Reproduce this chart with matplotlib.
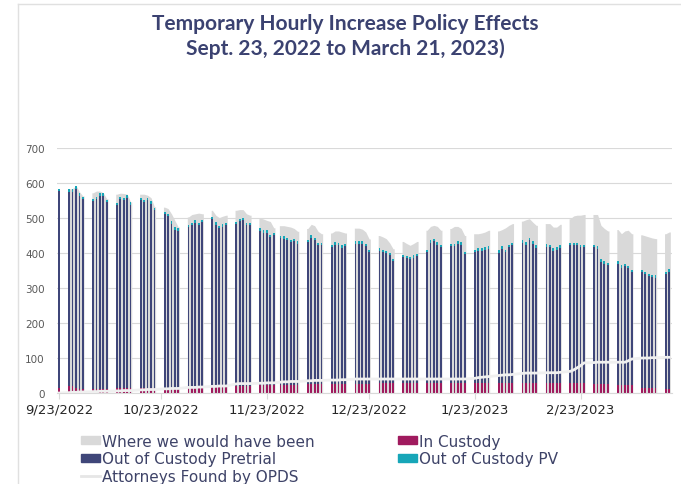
import numpy as np
import pandas as pd
import matplotlib
matplotlib.use("Agg")
import matplotlib.pyplot as plt
import matplotlib.dates as mdates
from matplotlib.patches import Patch
from matplotlib.lines import Line2D

# one bar per weekday 9/23/2022 .. 3/21/2023 (plus a Sunday entry on 11/27)
dates = pd.bdate_range("2022-09-23", "2023-03-21").union(pd.DatetimeIndex(["2022-11-27"]))

in_custody = (
    [15]
    + [20, 20, 15, 12, 12]
    + [12] * 5 + [13] * 5 + [14] * 5 + [14] * 5
    + [18] * 5 + [18] * 5 + [20] * 5 + [22] * 5
    + [24] * 6
    + [25] * 5 + [26] * 5 + [27] * 5 + [28] * 5
    + [28] * 5 + [28] * 5 + [28] * 5 + [28] * 5
    + [28] * 5 + [28] * 5 + [28] * 5 + [30] * 5
    + [25] * 5 + [22] * 5 + [14] * 5
    + [12, 12]
)

out_pretrial = (
    [561]
    + [555, 555, 569, 551, 542]
    + [536, 542, 551, 551, 533]
    + [524, 541, 538, 545, 525]
    + [537, 531, 536, 527, 508]
    + [496, 491, 469, 453, 450]
    + [456, 461, 468, 462, 470]
    + [478, 463, 453, 457, 461]
    + [462, 471, 473, 460, 459]
    + [441, 436, 436, 423, 428]
    + [418, 417, 412, 407, 409, 402]
    + [406, 419, 412, 397, 398]
    + [391, 398, 396, 389, 393]
    + [400, 400, 399, 393, 376]
    + [379, 374, 372, 365, 348]
    + [360, 357, 354, 358, 363]
    + [375, 401, 406, 396, 389]
    + [392, 392, 398, 396, 368]
    + [375, 378, 378, 382, 384]
    + [373, 384, 375, 389, 394]
    + [401, 396, 408, 398, 387]
    + [390, 389, 378, 381, 387]
    + [393, 393, 393, 387, 387]
    + [392, 387, 350, 345, 340]
    + [347, 336, 341, 334, 323]
    + [331, 326, 320, 317, 315]
    + [327, 334]
)

out_pv = [7] * 129

would_have_been = (
    [583]
    + [583, 584, 593, 575, 563]
    + [572, 577, 577, 572, 555]
    + [568, 571, 570, 568, 546]
    + [568, 568, 565, 558, 532]
    + [531, 527, 512, 493, 474]
    + [503, 510, 512, 514, 512]
    + [522, 508, 501, 505, 508]
    + [522, 524, 524, 512, 508]
    + [500, 497, 493, 490, 472]
    + [478, 478, 476, 474, 470, 462]
    + [470, 482, 478, 462, 455]
    + [457, 463, 463, 460, 457]
    + [471, 471, 468, 460, 440]
    + [450, 446, 441, 429, 412]
    + [433, 427, 422, 427, 433]
    + [465, 476, 479, 476, 465]
    + [470, 476, 476, 470, 450]
    + [455, 455, 457, 460, 465]
    + [463, 467, 472, 479, 484]
    + [491, 495, 498, 488, 479]
    + [484, 484, 474, 474, 482]
    + [498, 506, 508, 508, 510]
    + [510, 510, 479, 470, 463]
    + [467, 455, 463, 465, 455]
    + [452, 449, 446, 443, 441]
    + [455, 460]
)

attorneys_found = (
    [0]
    + [1, 2, 2, 3, 3]
    + [4, 4, 5, 5, 5]
    + [6, 6, 7, 7, 7]
    + [9, 9, 10, 10, 10]
    + [12, 12, 13, 13, 13]
    + [16, 16, 16, 17, 17]
    + [19, 19, 20, 20, 20]
    + [26, 27, 27, 27, 27]
    + [28, 28, 29, 29, 29]
    + [31, 32, 32, 33, 33, 33]
    + [35, 35, 36, 36, 36]
    + [37, 37, 37, 38, 38]
    + [40] * 5 + [40] * 5 + [40] * 5 + [40] * 5 + [40] * 5
    + [42, 44, 45, 46, 47]
    + [50, 51, 52, 52, 53]
    + [56, 57, 57, 57, 57]
    + [58, 58, 58, 58, 59]
    + [62, 66, 72, 78, 86]
    + [87, 88, 88, 88, 88]
    + [88, 88, 88, 92, 97]
    + [100, 100, 100, 101, 101]
    + [102, 102]
)

tick_dates = ["2022-09-23", "2022-10-23", "2022-11-23", "2022-12-23", "2023-01-23", "2023-02-23"]
tick_labels = ["9/23/2022", "10/23/2022", "11/23/2022", "12/23/2022", "1/23/2023", "2/23/2023"]

GRAY = "#d9d9d9"
NAVY = "#3f4679"
MAGENTA = "#a01a5e"
TEAL = "#17a6b8"
LINE = "#f0f0f0"
TXT = "#3e4368"

x = mdates.date2num(dates)

fig = plt.figure(figsize=(6.81, 4.85), dpi=100)
ax = fig.add_axes([0.0841, 0.1876, 0.903, 0.5052])

# "where we would have been" as an area, broken at weekends
runs = np.split(np.arange(len(x)), np.where(np.diff(x) > 1)[0] + 1)
wh = np.array(would_have_been)
for r in runs:
    xs = np.concatenate([[x[r[0]] - 0.35], x[r], [x[r[-1]] + 0.35]])
    ys = np.concatenate([[wh[r[0]]], wh[r], [wh[r[-1]]]])
    ax.fill_between(xs, ys, color=GRAY, lw=0, zorder=1)

bw = 0.52
bottom2 = np.add(in_custody, out_pretrial)
ax.bar(x, in_custody, bw, color=MAGENTA, lw=0, zorder=2)
ax.bar(x, out_pretrial, bw, bottom=in_custody, color=NAVY, lw=0, zorder=2)
ax.bar(x, out_pv, bw, bottom=bottom2, color=TEAL, lw=0, zorder=2)
ax.plot(x, attorneys_found, color=LINE, lw=2, zorder=3)

ax.set_ylim(0, 700)
ax.set_yticks(range(0, 701, 100))
ax.set_xlim(x[0] - 0.5, x[-1] + 0.9)
ax.set_xticks(mdates.date2num(pd.to_datetime(tick_dates)))
ax.set_xticklabels(tick_labels)
ax.grid(axis="y", color=GRAY, lw=0.8, zorder=0)
ax.set_axisbelow(True)
for s in ["top", "right", "left"]:
    ax.spines[s].set_visible(False)
ax.spines["bottom"].set_color(GRAY)
ax.tick_params(axis="y", length=0, labelsize=7.5, labelcolor="#595959", pad=9)
ax.tick_params(axis="x", length=4, color=GRAY, labelsize=9.5, labelcolor="#262626", pad=3)

handles = [
    Patch(color=GRAY, label="Where we would have been"),
    Patch(color=NAVY, label="Out of Custody Pretrial"),
    Line2D([], [], color="#e6e6e6", lw=2, label="Attorneys Found by OPDS"),
    Patch(color=MAGENTA, label="In Custody"),
    Patch(color=TEAL, label="Out of Custody PV"),
]
leg = fig.legend(handles=handles, ncol=2, loc="upper left", bbox_to_anchor=(0.119, 0.104),
                 frameon=False, fontsize=11, handlelength=1.25, handleheight=0.45,
                 handletextpad=0.15, labelspacing=0.18, columnspacing=5.4,
                 borderpad=0, borderaxespad=0)
for t in leg.get_texts():
    t.set_color(TXT)

fig.text(0.507, 0.925, "Temporary Hourly Increase Policy Effects\nSept. 23, 2022 to March 21, 2023)",
         ha="center", va="center", fontsize=15, fontweight="bold", color="#3b4271",
         family="Lato", linespacing=1.25)

# frame border of the original figure
fig.add_artist(Line2D([18 / 681, 1], [1 - 5 / 485, 1 - 5 / 485], color="#e0e0e0", lw=1))
fig.add_artist(Line2D([18 / 681, 18 / 681], [0, 1 - 5 / 485], color="#e0e0e0", lw=1))

fig.savefig("out.png", dpi=100)
